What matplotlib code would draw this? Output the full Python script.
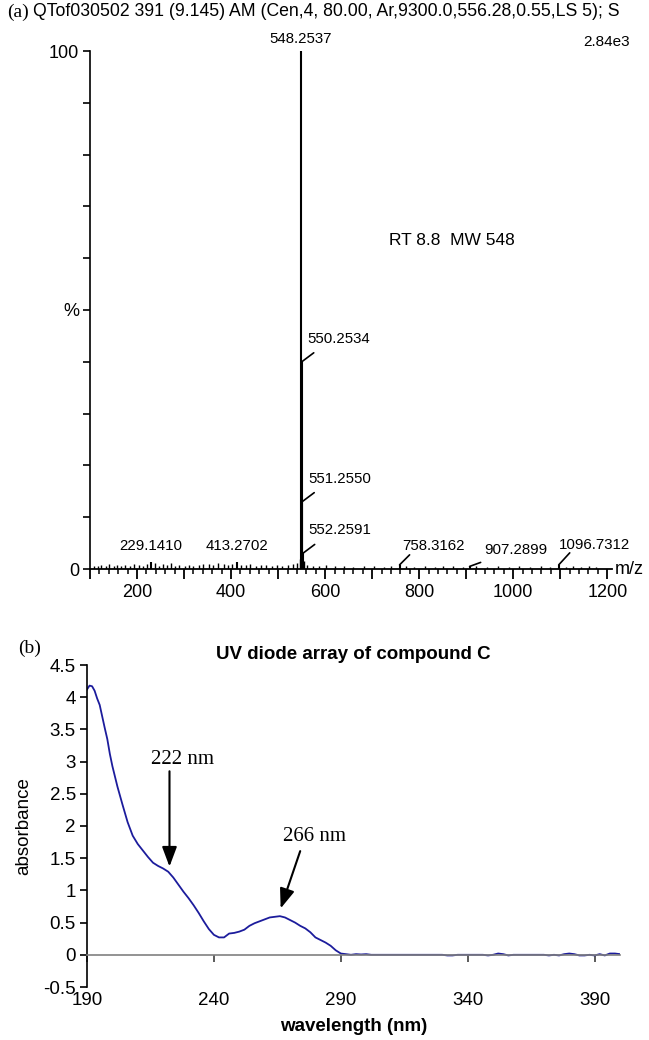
import matplotlib
matplotlib.use('Agg')
import matplotlib.pyplot as plt
from matplotlib.ticker import MultipleLocator, FixedLocator, FuncFormatter

SANS = ['Liberation Sans', 'DejaVu Sans']
SERIF = ['Liberation Serif', 'DejaVu Serif']
plt.rcParams['font.family'] = SANS

# ---------------- Panel (a): mass spectrum ----------------
ms_header = "QTof030502 391 (9.145) AM (Cen,4, 80.00, Ar,9300.0,556.28,0.55,LS 5); S"
ms_scale = "2.84e3"
ms_note = "RT 8.8  MW 548"

labelled_mz = [229.1410, 413.2702, 548.2537, 550.2534, 551.2550, 552.2591,
               758.3162, 907.2899, 1096.7312]
labelled_int = [1.4, 1.4, 100.0, 40.0, 13.0, 3.0, 0.8, 0.5, 0.8]

noise_mz = [108, 116, 124, 133, 141, 150, 158, 166, 175, 184, 193, 204, 212, 221,
            238, 246, 255, 263, 272, 281, 290, 302, 311, 320, 331, 340, 352, 361,
            372, 384, 393, 401, 422, 431, 440, 452, 463, 474, 486, 497, 509, 520,
            531, 541, 546, 554, 562, 575, 588, 601, 622, 641, 660, 682, 703, 725,
            741, 772, 790, 812, 833, 851, 872, 893, 921, 945, 968, 990, 1012,
            1035, 1058, 1079, 1112, 1128, 1145, 1162, 1176]
noise_int = [0.6, 0.5, 0.7, 0.5, 0.9, 0.6, 0.8, 0.5, 0.7, 0.6, 1.0, 0.8, 0.6, 0.9,
             1.1, 0.6, 0.9, 0.7, 1.2, 0.6, 0.8, 0.5, 0.7, 0.6, 0.8, 0.9, 1.0, 0.7,
             1.1, 0.9, 0.7, 1.0, 0.8, 0.7, 0.9, 0.6, 0.8, 0.7, 0.5, 0.8, 0.6, 0.7,
             0.9, 1.2, 2.0, 1.5, 0.8, 0.6, 0.5, 0.7, 0.5, 0.6, 0.4, 0.5, 0.6, 0.4,
             0.5, 0.6, 0.4, 0.5, 0.4, 0.6, 0.5, 0.4, 0.5, 0.4, 0.6, 0.4, 0.5,
             0.4, 0.5, 0.4, 0.4, 0.5, 0.4, 0.5, 0.4]

# ---------------- Panel (b): UV spectrum ----------------
uv_title = "UV diode array of compound C"
wavelength = [190, 191, 192, 193, 194, 195, 196, 197, 198, 199, 200, 201, 202, 204,
              206, 208, 210, 212, 214, 216, 218, 220, 222, 224, 226, 228, 230, 232,
              234, 236, 238, 240, 242, 244, 246, 248, 250, 252, 254, 256, 258, 260,
              262, 264, 266, 268, 270, 272, 274, 276, 278, 280, 282, 284, 286, 288,
              290, 292, 294, 296, 298, 300, 302, 310, 320, 330, 332, 334, 336, 346,
              348, 350, 352, 354, 356, 358, 370, 372, 374, 376, 378, 380, 382, 384,
              386, 388, 390, 392, 394, 396, 398, 400]
absorbance = [4.12, 4.18, 4.17, 4.10, 3.98, 3.88, 3.70, 3.52, 3.35, 3.12, 2.93, 2.77,
              2.61, 2.33, 2.06, 1.85, 1.72, 1.62, 1.52, 1.43, 1.38, 1.34, 1.29, 1.20,
              1.09, 0.98, 0.88, 0.77, 0.65, 0.52, 0.40, 0.31, 0.27, 0.27, 0.33, 0.34,
              0.36, 0.39, 0.45, 0.49, 0.52, 0.55, 0.58, 0.59, 0.60, 0.58, 0.54, 0.50,
              0.45, 0.41, 0.35, 0.27, 0.23, 0.19, 0.14, 0.07, 0.02, 0.01, 0.0, 0.01,
              0.005, 0.01, 0.0, 0.0, 0.0, 0.0, -0.01, -0.01, 0.0, 0.0, -0.01, 0.0,
              0.02, 0.01, -0.01, 0.0, 0.0, -0.01, 0.0, -0.01, 0.01, 0.02, 0.01, -0.01,
              -0.01, 0.0, -0.01, 0.01, -0.01, 0.02, 0.02, 0.01]
ann_labels = ["222 nm", "266 nm"]
ann_peaks = [222.5, 266.3]
ann_tips = [1.37, 0.72]

fig = plt.figure(figsize=(6.49, 10.40), dpi=100)

# ---------- (a) ----------
ax1 = fig.add_axes([90 / 649, 471 / 1040, 522 / 649, 518 / 1040])
ax1.vlines(noise_mz, 0, noise_int, color='black', lw=1.0)
ax1.vlines(labelled_mz, 0, labelled_int, color='black', lw=1.5)
ax1.set_xlim(100, 1210)
ax1.set_ylim(0, 100)
for s in ['top', 'right']:
    ax1.spines[s].set_visible(False)
ax1.spines['left'].set_linewidth(1.2)
ax1.spines['bottom'].set_linewidth(1.3)
ax1.yaxis.set_major_locator(FixedLocator([0, 50, 100]))
ax1.yaxis.set_minor_locator(MultipleLocator(10))
ax1.yaxis.set_major_formatter(FuncFormatter(
    lambda v, p: {0: '0', 50: '%', 100: '100'}.get(int(round(v)), '')))
ax1.tick_params(axis='y', which='both', direction='out', length=5, width=1.2,
                labelsize=13, pad=3)
ax1.xaxis.set_major_locator(MultipleLocator(100))
ax1.xaxis.set_minor_locator(MultipleLocator(20))
ax1.xaxis.set_major_formatter(FuncFormatter(
    lambda v, p: f"{int(round(v))}" if int(round(v)) % 200 == 0 else ''))
ax1.tick_params(axis='x', which='major', direction='out', length=7, width=1.3,
                labelsize=13, pad=4)
ax1.tick_params(axis='x', which='minor', direction='out', length=3.5, width=1.1)

# peak labels: (line offset px, text offset px, ha)
label_style = {
    229.1410: (None, (0, 9), 'center'),
    413.2702: (None, (0, 9), 'center'),
    548.2537: (None, (0, 5), 'center'),
    550.2534: ((12, 9), (6, 16), 'left'),
    551.2550: ((12, 9), (6, 16), 'left'),
    552.2591: ((12, 9), (6, 16), 'left'),
    758.3162: ((10, 10), (3, 12), 'left'),
    907.2899: ((11, 4), (15, 9), 'left'),
    1096.7312: ((11, 12), (0, 13), 'left'),
}
for mz, it in zip(labelled_mz, labelled_int):
    line_off, text_off, ha = label_style[mz]
    if line_off is not None:
        ax1.annotate('', xy=(mz, it), xytext=line_off, textcoords='offset pixels',
                     arrowprops=dict(arrowstyle='-', lw=1.2, color='black',
                                     shrinkA=0, shrinkB=0))
    ax1.annotate(f"{mz:.4f}", xy=(mz, it), xytext=text_off,
                 textcoords='offset pixels', ha=ha, va='bottom', fontsize=10.8)

fig.text(7 / 649, 1 - 12 / 1040, "(a)", family=SERIF, fontsize=14,
         ha='left', va='center')
fig.text(33 / 649, 1 - 12 / 1040, ms_header, fontsize=12.7, ha='left', va='center')
fig.text(630 / 649, 1 - 42 / 1040, ms_scale, fontsize=11, ha='right', va='center')
fig.text(452 / 649, 1 - 240 / 1040, ms_note, fontsize=12.5, ha='center', va='center')
ax1.text(1.005, 0.0, "m/z", transform=ax1.transAxes, fontsize=13,
         ha='left', va='center')

# ---------- (b) ----------
ax2 = fig.add_axes([87 / 649, 53 / 1040, 533 / 649, 322 / 1040])
ax2.plot(wavelength, absorbance, color='#1c1c9c', lw=1.3)
ax2.set_xlim(190, 400)
ax2.set_ylim(-0.5, 4.5)
for s in ['top', 'right']:
    ax2.spines[s].set_visible(False)
ax2.spines['bottom'].set_position(('data', 0))
ax2.spines['bottom'].set_color('#808080')
ax2.spines['bottom'].set_linewidth(1.2)
ax2.spines['left'].set_linewidth(1.2)
ax2.set_xticks([190, 240, 290, 340, 390])
ax2.yaxis.set_major_locator(MultipleLocator(0.5))
ax2.yaxis.set_major_formatter(FuncFormatter(lambda v, p: f"{v:g}"))
ax2.tick_params(axis='x', direction='out', length=5, width=1.2, color='#404040',
                labelsize=13.5, pad=22)
ax2.tick_params(axis='y', direction='out', length=5, width=1.2, labelsize=13.5, pad=3)
ax2.set_title(uv_title, fontsize=13.5, fontweight='bold', pad=4)
ax2.set_ylabel("absorbance", fontsize=13.5, labelpad=8)
ax2.set_xlabel("wavelength (nm)", fontsize=13.5, fontweight='bold', labelpad=6)

text_pos = [(227.5, 3.03), (279.7, 1.84)]
tail_pos = [(222.5, 2.85), (274.0, 1.61)]
for lab, px, tip, tp, tl in zip(ann_labels, ann_peaks, ann_tips, text_pos, tail_pos):
    ax2.annotate('', xy=(px, tip), xytext=tl,
                 arrowprops=dict(arrowstyle='-|>,head_length=1.2,head_width=0.45',
                                 lw=1.5, color='black', shrinkA=0, shrinkB=0))
    ax2.text(tp[0], tp[1], lab, family=SERIF, fontsize=15, ha='center', va='center')

fig.text(18 / 649, 1 - 648 / 1040, "(b)", family=SERIF, fontsize=14,
         ha='left', va='center')

fig.savefig('out.png', dpi=100)
